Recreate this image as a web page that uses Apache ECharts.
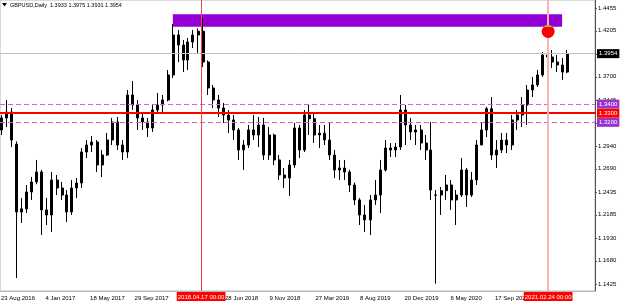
<!DOCTYPE html>
<html><head><meta charset="utf-8">
<script src="https://cdn.jsdelivr.net/npm/echarts@6/dist/echarts.min.js"></script>
<style>html,body{margin:0;padding:0;background:#fff}#c{width:620px;height:303px}</style>
</head><body><div id="c"></div>
<script>
// half-month bars (date = middle of the period)
const dates = ['2016-08-26',
'2016-09-08','2016-09-23','2016-10-08','2016-10-23','2016-11-08','2016-11-23','2016-12-08','2016-12-23',
'2017-01-08','2017-01-23','2017-02-08','2017-02-23','2017-03-08','2017-03-23','2017-04-08','2017-04-23',
'2017-05-08','2017-05-23','2017-06-08','2017-06-23','2017-07-08','2017-07-23','2017-08-08','2017-08-23',
'2017-09-08','2017-09-23','2017-10-08','2017-10-23','2017-11-08','2017-11-23','2017-12-08','2017-12-23',
'2018-01-08','2018-01-23','2018-02-08','2018-02-23','2018-03-08','2018-03-23','2018-04-08','2018-04-23',
'2018-05-08','2018-05-23','2018-06-08','2018-06-23','2018-07-08','2018-07-23','2018-08-08','2018-08-23',
'2018-09-08','2018-09-23','2018-10-08','2018-10-23','2018-11-08','2018-11-23','2018-12-08','2018-12-23',
'2019-01-08','2019-01-23','2019-02-08','2019-02-23','2019-03-08','2019-03-23','2019-04-08','2019-04-23',
'2019-05-08','2019-05-23','2019-06-08','2019-06-23','2019-07-08','2019-07-23','2019-08-08','2019-08-23',
'2019-09-08','2019-09-23','2019-10-08','2019-10-23','2019-11-08','2019-11-23','2019-12-08','2019-12-23',
'2020-01-08','2020-01-23','2020-02-08','2020-02-23','2020-03-08','2020-03-23','2020-04-08','2020-04-23',
'2020-05-08','2020-05-23','2020-06-08','2020-06-23','2020-07-08','2020-07-23','2020-08-08','2020-08-23',
'2020-09-08','2020-09-23','2020-10-08','2020-10-23','2020-11-08','2020-11-23','2020-12-08','2020-12-23',
'2021-01-08','2021-01-23','2021-02-08','2021-02-23','2021-03-08','2021-03-23','2021-04-08','2021-04-22'];
const opens = [1.3116,
1.3248,1.3313,1.2960,1.2216,1.2250,1.2435,1.2545,1.2655,
1.2238,1.2183,1.2567,1.2479,1.2402,1.2216,1.2479,1.2534,
1.2874,1.2951,1.2984,1.2732,1.2841,1.3006,1.3204,1.2951,
1.2874,1.3500,1.3390,1.3248,1.3204,1.3138,1.3335,1.3390,
1.3445,1.3720,1.4159,1.4049,1.3884,1.4082,1.4159,1.4200,
1.3862,1.3577,1.3445,1.3357,1.3280,1.3226,1.3116,1.2896,
1.2951,1.3116,1.3061,1.3171,1.2841,1.3061,1.2787,1.2622,
1.2589,1.2732,1.3138,1.2896,1.3280,1.3240,1.3061,1.3080,
1.3006,1.2841,1.2677,1.2699,1.2655,1.2512,1.2348,1.2183,
1.2128,1.2348,1.2402,1.2677,1.2918,1.2896,1.2929,1.3335,
1.3171,1.3094,1.3116,1.2973,1.2896,1.2400,1.2402,1.2450,
1.2512,1.2348,1.2402,1.2677,1.2402,1.2567,1.2951,1.3116,
1.3350,1.2841,1.2896,1.3006,1.2951,1.3226,1.3280,1.3390,
1.3555,1.3610,1.3720,1.3939,1.3917,1.3862,1.3829,1.3752];
const closes = [1.3248,
1.3313,1.3006,1.2216,1.2250,1.2435,1.2545,1.2655,1.2238,
1.2183,1.2567,1.2479,1.2402,1.2216,1.2479,1.2534,1.2874,
1.2951,1.2984,1.2732,1.2841,1.3006,1.3204,1.2951,1.2874,
1.3500,1.3390,1.3248,1.3204,1.3138,1.3335,1.3390,1.3445,
1.3720,1.4159,1.4049,1.3884,1.4082,1.4159,1.4200,1.3862,
1.3577,1.3445,1.3357,1.3280,1.3226,1.3116,1.2896,1.2951,
1.3116,1.3061,1.3171,1.2841,1.3061,1.2787,1.2622,1.2589,
1.2732,1.3138,1.2896,1.3280,1.3240,1.3061,1.3080,1.3006,
1.2841,1.2677,1.2699,1.2655,1.2512,1.2348,1.2183,1.2128,
1.2348,1.2402,1.2677,1.2918,1.2896,1.2929,1.3335,1.3171,
1.3094,1.3116,1.2973,1.2896,1.2457,1.2402,1.2450,1.2512,
1.2348,1.2402,1.2677,1.2402,1.2567,1.2951,1.3116,1.3350,
1.2841,1.2896,1.3006,1.2951,1.3226,1.3280,1.3390,1.3555,
1.3610,1.3720,1.3939,1.3917,1.3862,1.3829,1.3752,1.3954];
const lows = [1.3061,
1.3149,1.2929,1.1491,1.2095,1.2205,1.2348,1.2520,1.1963,
1.2073,1.1996,1.2402,1.2348,1.2106,1.2183,1.2369,1.2479,
1.2808,1.2874,1.2655,1.2600,1.2830,1.2951,1.2896,1.2787,
1.2808,1.3335,1.3116,1.3116,1.3039,1.3094,1.3313,1.3313,
1.3430,1.3687,1.3862,1.3752,1.3774,1.4016,1.3961,1.3807,
1.3500,1.3357,1.3259,1.3193,1.3083,1.3006,1.2787,1.2677,
1.2918,1.3006,1.2929,1.2787,1.2787,1.2732,1.2567,1.2479,
1.2391,1.2700,1.2808,1.2874,1.3061,1.2973,1.2918,1.2951,
1.2787,1.2589,1.2567,1.2567,1.2435,1.2293,1.2073,1.1996,
1.1963,1.2293,1.2205,1.2660,1.2819,1.2819,1.2896,1.2951,
1.3006,1.2951,1.2896,1.2787,1.2348,1.1430,1.2183,1.2348,
1.2238,1.2073,1.2380,1.2271,1.2380,1.2512,1.2990,1.3039,
1.2787,1.2699,1.2863,1.2863,1.2896,1.3116,1.3149,1.3171,
1.3478,1.3588,1.3700,1.3884,1.3796,1.3752,1.3665,1.3740];
const highs = [1.3280,
1.3445,1.3357,1.2990,1.2369,1.2512,1.2600,1.2787,1.2677,
1.2369,1.2655,1.2622,1.2545,1.2457,1.2567,1.2589,1.2918,
1.3006,1.3050,1.3006,1.2896,1.3083,1.3248,1.3259,1.3006,
1.3555,1.3654,1.3445,1.3313,1.3248,1.3390,1.3522,1.3500,
1.3774,1.4279,1.4214,1.4104,1.4126,1.4214,1.4230,1.4345,
1.3880,1.3610,1.3500,1.3412,1.3335,1.3280,1.3138,1.3006,
1.3171,1.3280,1.3259,1.3248,1.3149,1.3075,1.2841,1.2699,
1.2787,1.3193,1.3171,1.3335,1.3401,1.3313,1.3171,1.3171,
1.3193,1.2896,1.2787,1.2787,1.2680,1.2540,1.2369,1.2293,
1.2402,1.2567,1.2787,1.3006,1.2973,1.2973,1.3500,1.3390,
1.3248,1.3171,1.3171,1.3061,1.3204,1.2457,1.2490,1.2622,
1.2567,1.2457,1.2808,1.2699,1.2655,1.3006,1.3193,1.3370,
1.3478,1.3006,1.3083,1.3083,1.3280,1.3335,1.3478,1.3610,
1.3698,1.3774,1.3972,1.4180,1.3994,1.3939,1.3906,1.3994];

const yTickValues = [1.4455,1.4205,1.3950,1.3700,1.3445,1.3195,1.2940,1.2690,1.2435,1.2185,1.1930,1.1680,1.1425];
const xTickDates = ['2016-08-23','2017-01-04','2017-05-18','2017-09-29','2018-06-28','2018-11-09','2019-03-27','2019-08-08','2019-12-20','2020-05-06','2020-09-17'];
const xTickLabels = ['23 Aug 2016','4 Jan 2017','18 May 2017','29 Sep 2017','28 Jun 2018','9 Nov 2018','27 Mar 2019','8 Aug 2019','20 Dec 2019','6 May 2020','17 Sep 2020'];
const headerText = 'GBPUSD,Daily  1.3933 1.3975 1.3931 1.3954';
const bidPrice = 1.3954;
const redLevel = 1.3300;
const dashedLevels = [1.3400, 1.3200];
const eventDates = ['2018-04-17','2021-02-24'];
const eventLabels = ['2018.04.17 00:00','2021.02.24 00:00'];
const zoneFrom = ['2018-01-22', 1.4386];
const zoneTo = ['2021-04-07', 1.4250];
const circlePoint = ['2021-02-24', 1.4197];
const capPoint = ['2021-02-24', 1.4257];

const FONT = 'Liberation Sans';
function ts(s){const p=s.split('-');return Date.UTC(+p[0],+p[1]-1,+p[2]);}
const xTickTs = xTickDates.map(ts);
const candles = dates.map((d,i)=>[ts(d),opens[i],closes[i],lows[i],highs[i]]);

const chart = echarts.init(document.getElementById('c'), null, {renderer:'canvas'});
const lvlLabel = (bg) => ({show:true, position:'end', distance:2, formatter:p=>Number(p.value).toFixed(4),
  backgroundColor:bg, color:'#fff', fontSize:6, fontFamily:FONT, padding:[2,2,1,2]});
chart.setOption({
  animation:false,
  backgroundColor:'#fff',
  title:{text:headerText, left:10, top:2, padding:0,
    textStyle:{fontSize:5.5, fontWeight:'normal', color:'#000', fontFamily:FONT}},
  graphic:[{type:'polygon', shape:{points:[[2,3],[7,3],[4.5,6.5]]}, style:{fill:'#000'}, z:100}],
  grid:{left:0, right:25, top:0, bottom:12, show:true, borderColor:'#b8b8b8', borderWidth:1,
    containLabel:false, outerBoundsMode:'none'},
  xAxis:{type:'value', min:ts('2016-08-20'), max:ts('2021-07-15'), scale:true,
    axisLine:{show:true, lineStyle:{color:'#b8b8b8'}},
    axisTick:{show:false}, splitLine:{show:false},
    axisLabel:{customValues:xTickTs, formatter:v=>{const i=xTickTs.indexOf(v);return i>=0?xTickLabels[i]:'';},
      align:'left', fontSize:6, fontFamily:FONT, color:'#000', margin:4, hideOverlap:false}},
  yAxis:{type:'value', position:'right', min:1.13485, max:1.45428, scale:true,
    splitLine:{show:false},
    axisLine:{show:true, lineStyle:{color:'#505050'}},
    axisTick:{show:true, length:2, inside:false, customValues:yTickValues, lineStyle:{color:'#505050'}},
    axisLabel:{customValues:yTickValues, formatter:v=>v.toFixed(4), fontSize:6, fontFamily:FONT, color:'#000', margin:3}},
  series:[{
    type:'candlestick', name:'GBPUSD', data:candles, encode:{x:0, y:[1,2,3,4]},
    barWidth:2.5,
    itemStyle:{color:'#000', color0:'#000', borderColor:'#000', borderColor0:'#000', borderWidth:1},
    markArea:{silent:true, itemStyle:{color:'#9400d3', opacity:1},
      data:[[{xAxis:ts(zoneFrom[0]), yAxis:zoneFrom[1]},{xAxis:ts(zoneTo[0]), yAxis:zoneTo[1]}]]},
    markLine:{silent:true, symbol:['none','none'], animation:false, precision:4,
      data:[
        {yAxis:bidPrice, lineStyle:{color:'#c0c0c0', width:1, type:'solid'}, label:lvlLabel('#000')},
        {yAxis:dashedLevels[0], lineStyle:{color:'#cc66cc', width:1, type:[5,3]}, label:lvlLabel('#9933cc')},
        {yAxis:dashedLevels[1], lineStyle:{color:'#cc66cc', width:1, type:[5,3]}, label:lvlLabel('#9933cc')},
        {yAxis:redLevel, lineStyle:{color:'#ff0000', width:2, type:'solid'}, label:lvlLabel('#ff0000')},
        {xAxis:ts(eventDates[0]), lineStyle:{color:'#f04040', width:1, type:'solid'},
          label:{show:true, position:'start', distance:1, formatter:eventLabels[0], backgroundColor:'#ff0000',
            color:'#fff', fontSize:6, fontFamily:FONT, padding:[2,1,1,1]}},
        {xAxis:ts(eventDates[1]), lineStyle:{color:'#ffb0b0', width:2, type:'solid'},
          label:{show:true, position:'start', distance:1, formatter:eventLabels[1], backgroundColor:'#ff0000',
            color:'#fff', fontSize:6, fontFamily:FONT, padding:[2,1,1,1]}}
      ]},
    markPoint:{silent:true, animation:false, label:{show:false}, z:10,
      data:[
        {coord:[ts(circlePoint[0]), circlePoint[1]], symbol:'circle', symbolSize:13, itemStyle:{color:'#ff0000'}},
        {coord:[ts(capPoint[0]), capPoint[1]], symbol:'path://M0,2 A6.5,6.5 0 0 1 9.4,2 Z', symbolSize:[9.4,2],
          symbolKeepAspect:false, itemStyle:{color:'#9acd32'}}
      ]}
  }]
});
</script></body></html>
